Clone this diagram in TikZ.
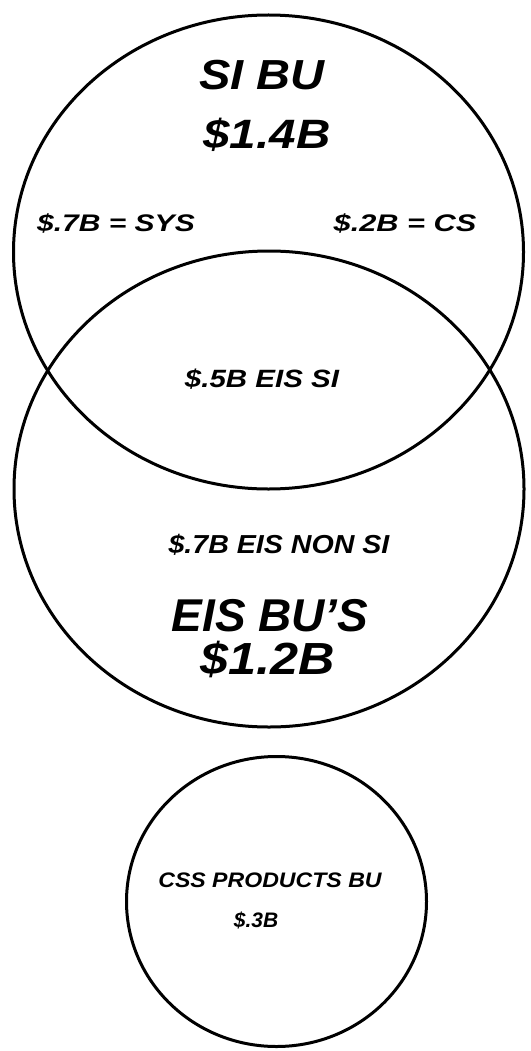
\documentclass[tikz,border=0pt]{standalone}
\usepackage{fontspec}
\setmainfont{Liberation Sans}
\usepackage{graphicx}
\tikzset{
  ring/.style={line width=3pt, draw=black},
  lbl/.style={inner sep=0pt, font=\bfseries\itshape, anchor=center},
}
\newcommand{\txt}[3]{\scalebox{#2}[1]{\fontsize{#1}{#1}\selectfont #3}}
\begin{document}
\begin{tikzpicture}[x=1pt,y=-1pt]
\useasboundingbox (0,0) rectangle (530,1051);
\fill[white] (0,0) rectangle (530,1051);
\coordinate (ctop) at (268.5,252);
\coordinate (cmid) at (269,489);
\coordinate (csmall) at (276.5,901.5);
\draw[ring] (ctop) ellipse [x radius=255, y radius=237];
\draw[ring] (cmid) ellipse [x radius=255, y radius=238];
\draw[ring] (csmall) ellipse [x radius=150, y radius=145];
\node[lbl] (sibu) at (262,75) {\txt{42}{1.12}{SI BU}};
\node[lbl] (sival) at (267,135) {\txt{41}{1.16}{\$1.4B}};
\node[lbl] (sys) at (116,223) {\txt{24}{1.25}{\$.7B = SYS}};
\node[lbl] (cs) at (405,223) {\txt{24}{1.28}{\$.2B = CS}};
\node[lbl] (eissi) at (262,379) {\txt{25}{1.18}{\$.5B EIS SI}};
\node[lbl] (nonsi) at (279,545) {\txt{26}{1.1}{\$.7B EIS NON SI}};
\node[lbl] (eisbu) at (270,616) {\txt{46}{1.0}{EIS BU'S}};
\node[lbl] (eisval) at (268,659) {\txt{45}{1.12}{\$1.2B}};
\node[lbl] (css) at (270,880) {\txt{21}{1.1}{CSS PRODUCTS BU}};
\node[lbl] (cssval) at (256,920) {\txt{21}{1.0}{\$.3B}};
\end{tikzpicture}
\end{document}
